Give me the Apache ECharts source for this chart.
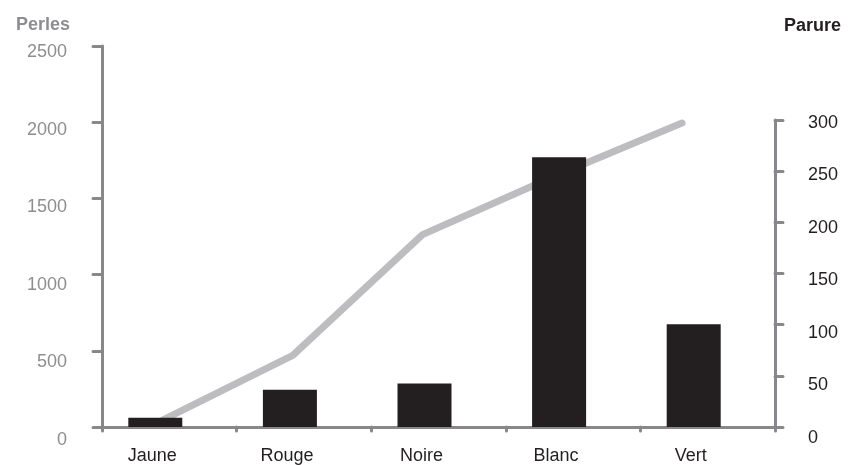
<!DOCTYPE html>
<html>
<head>
<meta charset="utf-8">
<script src="https://cdn.jsdelivr.net/npm/echarts@6/dist/echarts.min.js"></script>
<style>html,body{margin:0;padding:0;background:#fff}#c{width:849px;height:465px}</style>
</head>
<body>
<div id="c"></div>
<script>
var categories = ['Jaune', 'Rouge', 'Noire', 'Blanc', 'Vert'];
var perles = [60, 245, 285, 1770, 675];
var parure = [7, 70, 188, 244, 297];
var perlesTicks = [0, 2500, 500];
var parureTicks = [0, 300, 50];

var AX = '#87878c';
var FONT = 'Liberation Sans, Arial, sans-serif';
function axLine() { return { show: true, lineStyle: { color: AX, width: 3, cap: 'round' } }; }
function axTick(len) { return { show: true, length: len, lineStyle: { color: AX, width: 3, cap: 'round' } }; }
function off() { return { show: false }; }
function plain(v) { return String(v); }

var chart = echarts.init(document.getElementById('c'), null, { renderer: 'canvas' });
chart.setOption({
  animation: false,
  backgroundColor: '#fff',
  textStyle: { fontFamily: FONT },
  title: [
    { text: 'Perles', left: 11, top: 11, textStyle: { fontSize: 18, fontWeight: 'bold', color: '#8e8e92', fontFamily: FONT } },
    { text: 'Parure', right: 3, top: 12, textStyle: { fontSize: 18, fontWeight: 'bold', color: '#231f20', fontFamily: FONT } }
  ],
  grid: [
    { left: 102, right: 74, top: 46, bottom: 38 },   // 0 x axis + left axis
    { left: 102, right: 74, top: 120, bottom: 38 },  // 1 right axis line
    { left: 163, right: 167, top: 120, bottom: 38 }, // 2 line series
    { left: 102, right: 74, top: 52, bottom: 25 },   // 3 left labels
    { left: 102, right: 74, top: 123, bottom: 27 },  // 4 right labels
    { left: 85, right: 91, top: 46, bottom: 38 },    // 5 x labels
    { left: 88, right: 88, top: 46, bottom: 38 }     // 6 bars
  ],
  xAxis: [
    { gridIndex: 0, type: 'category', data: categories, axisLine: axLine(), axisTick: axTick(4),
      axisLabel: off(), splitLine: off() },
    { gridIndex: 1, type: 'category', data: categories, show: false },
    { gridIndex: 2, type: 'category', data: categories, boundaryGap: false, show: false },
    { gridIndex: 3, type: 'category', data: categories, show: false },
    { gridIndex: 4, type: 'category', data: categories, show: false },
    { gridIndex: 5, type: 'category', data: categories, axisLine: off(), axisTick: off(), splitLine: off(),
      axisLabel: { show: true, margin: 23, color: '#231f20', fontSize: 18, fontFamily: FONT, verticalAlign: 'top' } },
    { gridIndex: 6, type: 'category', data: categories, show: false }
  ],
  yAxis: [
    { gridIndex: 0, type: 'value', min: perlesTicks[0], max: perlesTicks[1], interval: perlesTicks[2],
      axisLine: axLine(), axisTick: axTick(9), axisLabel: off(), splitLine: off() },
    { gridIndex: 1, type: 'value', position: 'right', min: parureTicks[0], max: parureTicks[1], interval: parureTicks[2],
      axisLine: axLine(), axisTick: axTick(8), axisLabel: off(), splitLine: off() },
    { gridIndex: 2, type: 'value', min: parureTicks[0], max: parureTicks[1], show: false },
    { gridIndex: 3, type: 'value', min: perlesTicks[0], max: perlesTicks[1], interval: perlesTicks[2],
      axisLine: off(), axisTick: off(), splitLine: off(),
      axisLabel: { show: true, margin: 35, color: '#8e8e8e', fontSize: 18, fontFamily: FONT, formatter: plain } },
    { gridIndex: 4, type: 'value', position: 'right', min: parureTicks[0], max: parureTicks[1], interval: parureTicks[2],
      axisLine: off(), axisTick: off(), splitLine: off(),
      axisLabel: { show: true, margin: 33, color: '#231f20', fontSize: 18, fontFamily: FONT, formatter: plain } },
    { gridIndex: 5, type: 'value', min: 0, max: 2500, show: false },
    { gridIndex: 6, type: 'value', min: perlesTicks[0], max: perlesTicks[1], show: false }
  ],
  series: [
    { type: 'line', xAxisIndex: 2, yAxisIndex: 2, data: parure, symbol: 'none', z: 1,
      lineStyle: { color: '#bdbdc0', width: 7, cap: 'round' } },
    { type: 'bar', xAxisIndex: 6, yAxisIndex: 6, data: perles, barWidth: 54, z: 3,
      itemStyle: { color: '#231f20' } }
  ]
});
</script>
</body>
</html>
